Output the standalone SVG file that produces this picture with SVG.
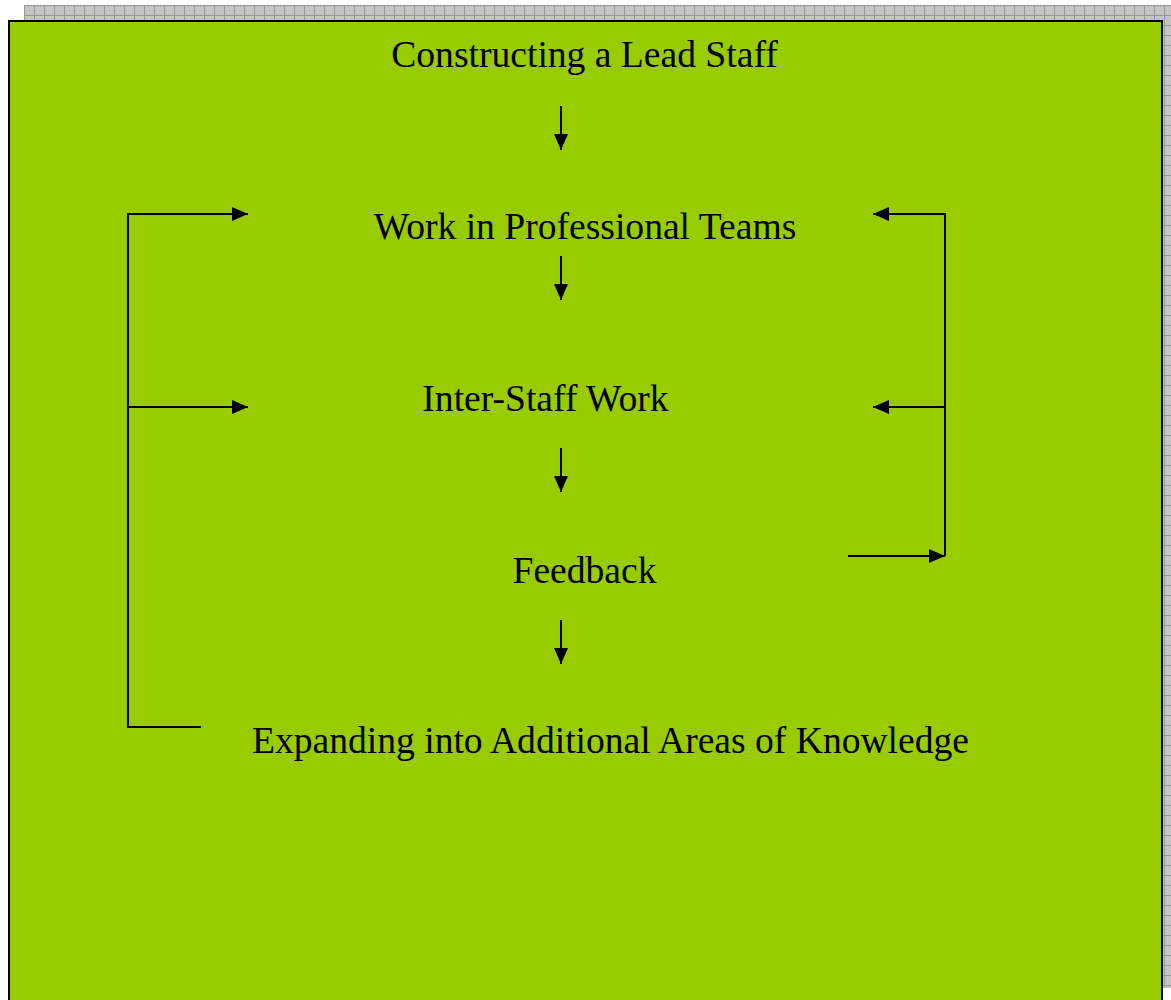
<svg xmlns="http://www.w3.org/2000/svg" width="1171" height="1000" viewBox="0 0 1171 1000">
<defs>
<pattern id="grid" width="10" height="10" patternUnits="userSpaceOnUse" x="4" y="5">
<rect width="10" height="10" fill="#c4c4c4"/>
<path d="M0 0.5H10M0.5 0V10" stroke="#989898" stroke-width="1"/>
</pattern>
<marker id="ah" viewBox="0 0 16 14" refX="16" refY="7" markerWidth="16" markerHeight="14" markerUnits="userSpaceOnUse" orient="auto">
<path d="M0 0L16 7L0 14Z" fill="#000"/>
</marker>
</defs>
<style>
.t{font-family:"Liberation Serif","Times New Roman",serif;font-size:37.6px;fill:#000;text-anchor:middle}
.c{stroke:#000;stroke-width:2;fill:none}
</style>
<rect width="1171" height="1000" fill="#fff"/>
<rect x="24" y="5" width="1147" height="15" fill="url(#grid)"/>
<rect x="1162" y="5" width="9" height="983" fill="url(#grid)"/>
<rect x="9" y="21" width="1153" height="990" fill="#99cc00" stroke="#000" stroke-width="2"/>
<g id="n1"><text class="t" x="584.5" y="67">Constructing a Lead Staff</text></g>
<g id="n2"><text class="t" x="585" y="239">Work in Professional Teams</text></g>
<g id="n3"><text class="t" x="545.5" y="411">Inter-Staff Work</text></g>
<g id="n4"><text class="t" x="584.5" y="583">Feedback</text></g>
<g id="n5"><text class="t" x="610.5" y="753">Expanding into Additional Areas of Knowledge</text></g>
<g id="connectors">
<path class="c" d="M561 106V150" marker-end="url(#ah)"/>
<path class="c" d="M561 256V300" marker-end="url(#ah)"/>
<path class="c" d="M561 448V492" marker-end="url(#ah)"/>
<path class="c" d="M561 620V664" marker-end="url(#ah)"/>
<path class="c" d="M201 727H128V214H248" marker-end="url(#ah)"/>
<path class="c" d="M128 407H248" marker-end="url(#ah)"/>
<path class="c" d="M848 556H945" marker-end="url(#ah)"/>
<path class="c" d="M945 556V214H873" marker-end="url(#ah)"/>
<path class="c" d="M945 407H873" marker-end="url(#ah)"/>
</g>
</svg>
